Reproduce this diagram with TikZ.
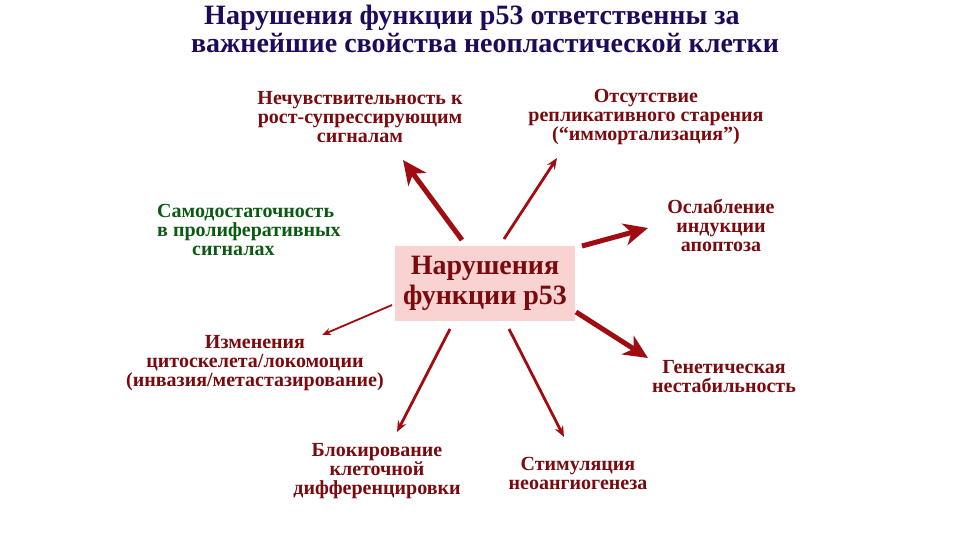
\documentclass[tikz,border=0pt]{standalone}
\usepackage{fontspec}
\setmainfont{Liberation Serif}
\usetikzlibrary{arrows.meta}
\definecolor{titleblue}{HTML}{1E0A5A}
\definecolor{lblred}{HTML}{7A0A0E}
\definecolor{arrred}{HTML}{A00C12}
\definecolor{lblgreen}{HTML}{0B5A12}
\definecolor{boxpink}{HTML}{F9D2D2}
\begin{document}
\begin{tikzpicture}[x=1pt,y=-1pt,
  titletext/.style={font=\fontsize{28}{25}\selectfont\bfseries, text=titleblue, inner sep=0pt},
  lbl/.style={font=\fontsize{20}{19}\selectfont\bfseries, text=lblred, align=center, inner sep=0pt},
  centerbox/.style={fill=boxpink, font=\fontsize{28}{30}\selectfont\bfseries, text=lblred, align=center, minimum width=180pt, minimum height=75pt, inner sep=0pt},
  thickarr/.style={draw=arrred, line width=5pt, -{Stealth[length=24pt,width=22pt,inset=7pt]}},
  medarr/.style={draw=arrred, line width=2.8pt, -{Stealth[length=11pt,width=9pt]}},
  thinarr/.style={draw=arrred, line width=1.8pt, -{Stealth[length=9pt,width=7pt]}}]
\useasboundingbox (0,0) rectangle (960,540);
% title
\node[titletext] (t1) at (472,18) {Нарушения функции p53 ответственны за};
\node[titletext] (t2) at (485,43) {важнейшие свойства неопластической клетки};
% center box
\node[centerbox] (c) at (485,283) {Нарушения\\функции p53};
% labels
\node[lbl] (l1) at (360,117) {Нечувствительность к\\рост-супрессирующим\\сигналам};
\node[lbl] (l2) at (646,117) {Отсутствие\\репликативного старения\\(“иммортализация”)};
\node[lbl, text=lblgreen, align=left, anchor=west] (l3) at (157,230) {Самодостаточность\\в пролиферативных\\\hspace*{35pt}сигналах};
\node[lbl] (l4) at (721,225) {Ослабление\\индукции\\апоптоза};
\node[lbl] (l5) at (255,363) {Изменения\\цитоскелета/локомоции\\(инвазия/метастазирование)};
\node[lbl] (l6) at (724,377) {Генетическая\\нестабильность};
\node[lbl] (l7) at (377,471) {Блокирование\\клеточной\\дифференцировки};
\node[lbl] (l8) at (578,473) {Стимуляция\\неоангиогенеза};
% arrow ends
\coordinate (s1) at (462,240); \coordinate (e1) at (403,160);
\coordinate (s2) at (504,239); \coordinate (e2) at (557,158);
\coordinate (s4) at (582,246); \coordinate (e4) at (648,228);
\coordinate (s5) at (392,305); \coordinate (e5) at (322,335);
\coordinate (s6) at (576,312); \coordinate (e6) at (648,358);
\coordinate (s7) at (450,329); \coordinate (e7) at (397,432);
\coordinate (s8) at (509,329); \coordinate (e8) at (564,437);
% arrows
\draw[thickarr] (s1) -- (e1);
\draw[medarr] (s2) -- (e2);
\draw[thickarr] (s4) -- (e4);
\draw[thinarr] (s5) -- (e5);
\draw[thickarr] (s6) -- (e6);
\draw[medarr] (s7) -- (e7);
\draw[medarr] (s8) -- (e8);
\end{tikzpicture}
\end{document}
